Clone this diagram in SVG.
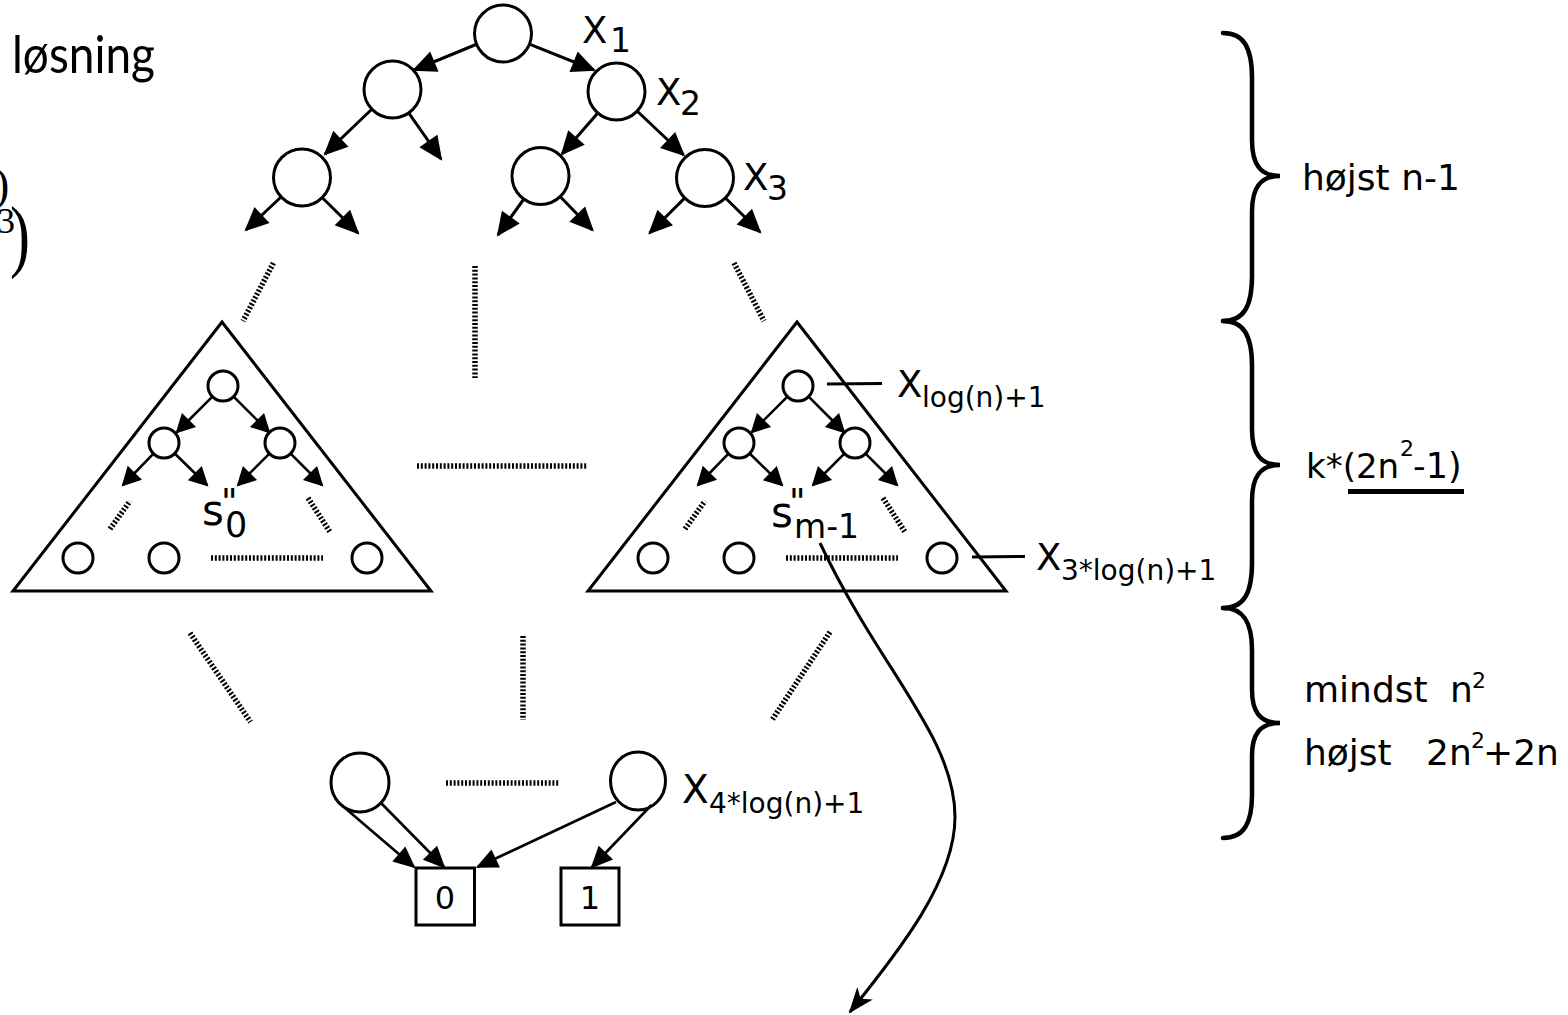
<svg xmlns="http://www.w3.org/2000/svg" width="1568" height="1015" viewBox="0 0 1568 1015">
  <style>
    .nd { fill: #fff; stroke: #000; stroke-width: 3; }
    .ln { fill: none; stroke: #000; stroke-width: 3; }
    .ar { fill: none; stroke: #000; stroke-width: 3; marker-end: url(#ah); }
    .ars { fill: none; stroke: #000; stroke-width: 2.6; marker-end: url(#ahs); }
    .arb { fill: none; stroke: #000; stroke-width: 2.6; marker-end: url(#ahb); }
    .dot { fill: none; stroke: #000; stroke-width: 5.5; stroke-dasharray: 2 1.8; }
    .tri { fill: none; stroke: #000; stroke-width: 3; stroke-linejoin: miter; }
    .brace { fill: none; stroke: #000; stroke-width: 4.5; stroke-linecap: round; }
    .sans { font-family: "DejaVu Sans", "Liberation Sans", sans-serif; fill: #000; }
    .cm { font-family: "Lato", "Liberation Sans", sans-serif; font-weight: 400; fill: #000; }
    .serif { font-family: "Liberation Serif", "DejaVu Serif", serif; fill: #000; }
  </style>
  <defs>
    <marker id="ah" markerUnits="userSpaceOnUse" markerWidth="30" markerHeight="30" refX="22" refY="11" orient="auto" overflow="visible">
      <path d="M0,0 L24,11 L0,22 z" fill="#000"/>
    </marker>
    <marker id="ahs" markerUnits="userSpaceOnUse" markerWidth="24" markerHeight="24" refX="17" refY="10" orient="auto" overflow="visible">
      <path d="M0,0 L19,10 L0,20 z" fill="#000"/>
    </marker>
    <marker id="ahb" markerUnits="userSpaceOnUse" markerWidth="26" markerHeight="26" refX="20" refY="10" orient="auto" overflow="visible">
      <path d="M0,0 L22,10 L0,20 z" fill="#000"/>
    </marker>
    <marker id="ahc" markerUnits="userSpaceOnUse" markerWidth="30" markerHeight="30" refX="24" refY="10" orient="auto" overflow="visible">
      <path d="M0,0 L26,10 L0,20 L7,10 z" fill="#000"/>
    </marker>
    <!-- small decision tree drawn inside each triangle -->
    <g id="subtree">
      <polygon class="tri" points="222,322 13,591 431,591"/>
      <circle class="nd" cx="223" cy="386" r="15"/>
      <circle class="nd" cx="164" cy="443" r="15"/>
      <circle class="nd" cx="280" cy="443" r="15"/>
      <circle class="nd" cx="78" cy="558" r="15"/>
      <circle class="nd" cx="164" cy="558" r="15"/>
      <circle class="nd" cx="367" cy="558" r="15"/>
      <line class="ars" x1="212.4" y1="396.6" x2="177" y2="432"/>
      <line class="ars" x1="233.6" y1="396.6" x2="269" y2="432"/>
      <line class="ars" x1="153.5" y1="453.7" x2="123" y2="485"/>
      <line class="ars" x1="174.7" y1="453.5" x2="207" y2="485"/>
      <line class="ars" x1="269.4" y1="453.6" x2="238" y2="485"/>
      <line class="ars" x1="290.6" y1="453.6" x2="322" y2="485"/>
      <line class="dot" x1="110" y1="529" x2="130" y2="501"/>
      <line class="dot" x1="308" y1="498" x2="330" y2="532"/>
      <line class="dot" x1="211" y1="558" x2="323" y2="558"/>
    </g>
  </defs>

  <rect width="1568" height="1015" fill="#fff"/>

  <!-- text fragments at the left margin -->
  <g id="margin-text">
    <text class="cm" x="12" y="73" font-size="52" textLength="143" lengthAdjust="spacingAndGlyphs">løsning</text>
    <text class="serif" x="-6" y="200" font-size="46">)</text>
    <text class="serif" x="-3" y="233" font-size="36">3</text>
    <text class="serif" x="10" y="262" font-size="80" transform="translate(10,0) scale(0.75,1) translate(-10,0)">)</text>
  </g>

  <!-- upper decision tree -->
  <g id="n-root"><circle class="nd" cx="503" cy="33.5" r="28.5"/></g>
  <g id="n-l2a"><circle class="nd" cx="392.5" cy="89.5" r="28.5"/></g>
  <g id="n-l2b"><circle class="nd" cx="616.5" cy="91.5" r="28.5"/></g>
  <g id="n-l3a"><circle class="nd" cx="302" cy="177.5" r="28.5"/></g>
  <g id="n-l3b"><circle class="nd" cx="540.5" cy="176" r="28.5"/></g>
  <g id="n-l3c"><circle class="nd" cx="705" cy="178" r="28.5"/></g>

  <text id="lbl-x1" class="sans" x="582" y="43" font-size="37">X<tspan x="610" y="52" font-size="33">1</tspan></text>
  <text id="lbl-x2" class="sans" x="656" y="105" font-size="37">X<tspan x="680" y="115" font-size="33">2</tspan></text>
  <text id="lbl-x3" class="sans" x="743" y="190" font-size="37">X<tspan x="767" y="200" font-size="33">3</tspan></text>

  <!-- the two sub-trees -->
  <g id="tri-s0">
    <use href="#subtree"/>
    <text class="sans" x="202" y="525" font-size="42">s<tspan x="221" y="514" font-size="36">"</tspan><tspan x="225" y="537" font-size="35">0</tspan></text>
  </g>
  <g id="tri-sm1">
    <use href="#subtree" transform="translate(575,0)"/>
    <text class="sans" x="771" y="527" font-size="42">s<tspan x="789" y="514" font-size="36">"</tspan><tspan x="794" y="538" font-size="33">m-1</tspan></text>
  </g>
  <text id="lbl-xlog" class="sans" x="897" y="397" font-size="37">X<tspan x="922" y="407" font-size="28">log(n)+1</tspan></text>
  <text id="lbl-x3log" class="sans" x="1036" y="570" font-size="37">X<tspan x="1061" y="580" font-size="28">3*log(n)+1</tspan></text>

  <!-- bottom layer and terminals -->
  <g id="n-b1"><ellipse class="nd" cx="360" cy="782.5" rx="29" ry="29.5"/></g>
  <g id="n-b2"><ellipse class="nd" cx="638" cy="781" rx="27.5" ry="29"/></g>
  <text id="lbl-x4log" class="sans" x="682" y="803" font-size="39">X<tspan x="709" y="813" font-size="28">4*log(n)+1</tspan></text>
  <g id="t-0">
    <rect class="nd" x="416" y="868" width="58.5" height="57"/>
    <text class="sans" x="445" y="908.5" font-size="32" text-anchor="middle">0</text>
  </g>
  <g id="t-1">
    <rect class="nd" x="561" y="868" width="58" height="57"/>
    <text class="sans" x="590" y="908.5" font-size="32" text-anchor="middle">1</text>
  </g>

  <!-- braces and counts on the right -->
  <g id="brace-top">
    <path class="brace" d="M1223,33 C1244,33 1252,48 1252,78 L1252,140 C1252,164 1260,176 1280,176 C1260,176 1252,188 1252,212 L1252,276 C1252,306 1244,321 1223,321"/>
    <text class="sans" x="1302" y="190" font-size="36">højst n-1</text>
  </g>
  <g id="brace-mid">
    <path class="brace" d="M1223,321 C1244,321 1252,336 1252,366 L1252,429 C1252,453 1260,465 1280,465 C1260,465 1252,477 1252,501 L1252,563 C1252,593 1244,608 1223,608"/>
    <text class="sans" x="1306" y="478" font-size="34">k*(2n<tspan x="1400" y="456" font-size="22">2</tspan><tspan x="1413" y="478" font-size="35">-1)</tspan></text>
    <line x1="1348" y1="491.5" x2="1464" y2="491.5" stroke="#000" stroke-width="5"/>
  </g>
  <g id="brace-bot">
    <path class="brace" d="M1223,608 C1244,608 1252,623 1252,650 L1252,690 C1252,712 1260,723 1280,723 C1260,723 1252,734 1252,756 L1252,795 C1252,823 1244,838 1223,838"/>
    <text class="sans" x="1304" y="702" font-size="36">mindst<tspan x="1450" y="702">n</tspan><tspan x="1472" y="688" font-size="22">2</tspan></text>
    <text class="sans" x="1304" y="765" font-size="36">højst<tspan x="1426" y="765">2n</tspan><tspan x="1471" y="748" font-size="22">2</tspan><tspan x="1483" y="765">+2n</tspan></text>
  </g>

  <!-- connectors -->
  <g id="connectors">
    <line class="ar" x1="476" y1="44.5" x2="414" y2="70"/>
    <line class="ar" x1="530" y1="44.3" x2="594" y2="70"/>
    <line class="ar" x1="371.5" y1="109.5" x2="325" y2="154"/>
    <line class="ar" x1="409" y1="113.3" x2="441" y2="159"/>
    <line class="ar" x1="281" y1="197" x2="246" y2="230"/>
    <line class="ar" x1="322.6" y1="198" x2="358" y2="233"/>
    <line class="ar" x1="597.4" y1="113.4" x2="562" y2="154"/>
    <line class="ar" x1="637.6" y1="111.5" x2="683.6" y2="155"/>
    <line class="ar" x1="523.5" y1="199.5" x2="498" y2="235"/>
    <line class="ar" x1="560.6" y1="197" x2="592.5" y2="230"/>
    <line class="ar" x1="684.4" y1="198.4" x2="649.6" y2="233"/>
    <line class="ar" x1="725.7" y1="198.3" x2="760" y2="232"/>

    <line class="dot" x1="273.4" y1="263" x2="243" y2="321"/>
    <line class="dot" x1="475" y1="266" x2="475" y2="378"/>
    <line class="dot" x1="734" y1="263" x2="764" y2="321"/>
    <line class="dot" x1="417" y1="466" x2="587" y2="466"/>
    <line class="dot" x1="190" y1="633" x2="250.5" y2="722"/>
    <line class="dot" x1="523" y1="636" x2="523" y2="720"/>
    <line class="dot" x1="830" y1="632" x2="772" y2="720"/>
    <line class="dot" x1="446" y1="783" x2="559" y2="783"/>

    <line class="ln" x1="827" y1="384" x2="882" y2="383.5"/>
    <line class="ln" x1="972" y1="557" x2="1025" y2="556.5"/>

    <line class="arb" x1="345" y1="808" x2="414" y2="867"/>
    <line class="arb" x1="381" y1="803" x2="444" y2="867"/>
    <line class="arb" x1="616" y1="802" x2="477.6" y2="867"/>
    <line class="arb" x1="651.5" y1="805" x2="592" y2="867"/>

    <path class="ln" d="M820,543 C880,670 955,737 955,817 C955,880 900,950 850,1012" marker-end="url(#ahc)"/>
  </g>
</svg>
